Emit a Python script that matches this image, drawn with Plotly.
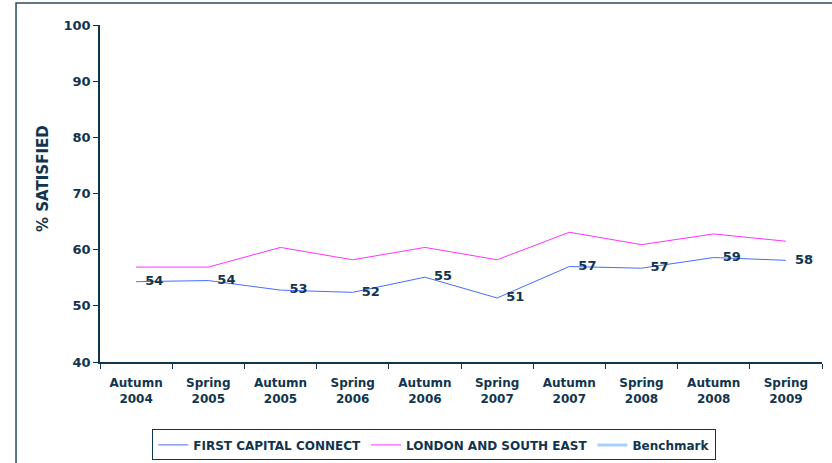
import plotly.graph_objects as go

# survey waves on the x axis
waves = ["Autumn<br>2004", "Spring<br>2005", "Autumn<br>2005", "Spring<br>2006", "Autumn<br>2006",
         "Spring<br>2007", "Autumn<br>2007", "Spring<br>2008", "Autumn<br>2008", "Spring<br>2009"]

# % satisfied per operator
fcc = [54.3, 54.5, 52.8, 52.4, 55.1, 51.4, 57.0, 56.7, 58.6, 58.1]
fcc_labels = ["54", "54", "53", "52", "55", "51", "57", "57", "59", "58"]
lse = [56.9, 56.9, 60.4, 58.2, 60.4, 58.2, 63.1, 60.9, 62.8, 61.5]
benchmark = [None]  # only shows up in the legend

navy = "#12354f"
font_main = "DejaVu Sans"

fig = go.Figure()

# FCC line, labels to the right of each point
fig.add_trace(go.Scatter(
    x=waves, y=fcc, mode="lines+text", name="FIRST CAPITAL CONNECT",
    line=dict(color="#4a6cff", width=1),
    text=fcc_labels, texttemplate="  %{text}", textposition="middle right",
    textfont=dict(family=font_main, size=13, color=navy, weight="bold"),
))

fig.add_trace(go.Scatter(
    x=waves, y=lse, mode="lines", name="LONDON AND SOUTH EAST",
    line=dict(color="#ff33ff", width=1),
))

fig.add_trace(go.Scatter(
    x=[waves[0]], y=benchmark, mode="lines", name="Benchmark",
    line=dict(color="#a8d0ff", width=3),
))

fig.update_layout(
    width=832, height=463,
    paper_bgcolor="white", plot_bgcolor="white",
    margin=dict(l=100, r=10, t=25, b=101, autoexpand=False),
    font=dict(family=font_main, color=navy, size=12),
    showlegend=True,
    legend=dict(
        orientation="h", x=0.463, xanchor="center", y=-0.2, yanchor="top",
        bordercolor=navy, borderwidth=1,
        font=dict(family=font_main, size=12, color=navy, weight="bold"),
        itemwidth=30,
    ),
    xaxis=dict(
        automargin=False,
        showgrid=False, showline=True, linecolor=navy, linewidth=1.5,
        ticks="outside", ticklen=5, tickcolor=navy, tickson="boundaries",
        tickfont=dict(family=font_main, size=12, color=navy, weight="bold"),
        ticklabelstandoff=9,
        range=[-0.5, 9.5],
    ),
    yaxis=dict(
        automargin=False,
        range=[40, 100], dtick=10, showgrid=False, zeroline=False,
        showline=True, linecolor=navy, linewidth=1.5,
        ticks="outside", ticklen=5, tickcolor=navy,
        tickfont=dict(family=font_main, size=13, color=navy, weight="bold"),
    ),
    annotations=[dict(text="% SATISFIED", textangle=-90, showarrow=False,
                      xref="paper", yref="paper", x=-0.079, y=0.546,
                      xanchor="center", yanchor="middle",
                      font=dict(family=font_main, size=15, color=navy, weight="bold"))],
    # outer frame of the chart box (cut off at right and bottom)
    shapes=[dict(type="rect", xref="paper", yref="paper",
                 x0=-0.1163, x1=1.03, y0=-0.35, y1=1.065,
                 line=dict(color="#2b4a5e", width=1.5))],
)

# drop the browser's default page margin so the figure sits at 0,0
fig.write_html("out.html", config={"displayModeBar": False},
               post_script="document.body.style.margin='0';")
